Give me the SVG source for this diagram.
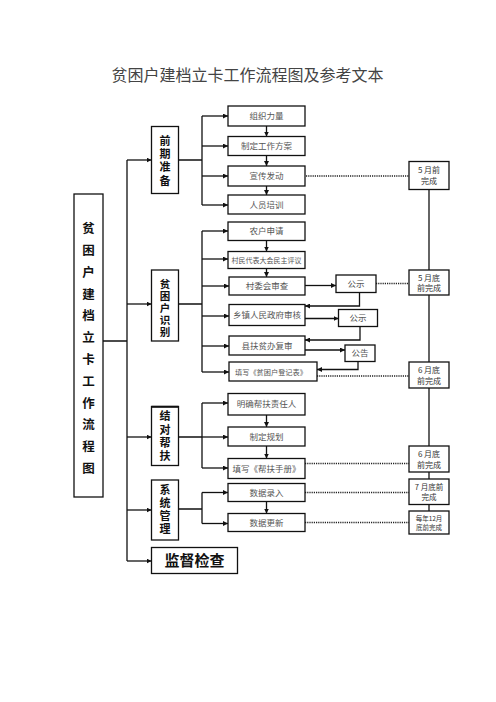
<svg xmlns="http://www.w3.org/2000/svg" width="496" height="702" viewBox="0 0 496 702">
<defs>
<marker id="ah" viewBox="0 0 10 10" refX="10" refY="5" markerWidth="5" markerHeight="5" orient="auto" markerUnits="userSpaceOnUse">
<path d="M0,0 L10,5 L0,10 z" fill="#111"/>
</marker>
<style>
.b{fill:#fff;stroke:#111;stroke-width:1.3}
.l{fill:none;stroke:#111;stroke-width:1.3}
.a{fill:none;stroke:#111;stroke-width:1.3;marker-end:url(#ah)}
.d{fill:none;stroke:#222;stroke-width:1.3;stroke-dasharray:1.2 1}
.t{font-family:"Noto Sans CJK SC",sans-serif;font-size:8.5px;fill:#555;text-anchor:middle}
.s{font-family:"Noto Sans CJK SC",sans-serif;font-size:8px;fill:#333;text-anchor:middle}
.v{font-family:"Noto Sans CJK SC",sans-serif;font-size:11px;font-weight:bold;fill:#111;text-anchor:middle;writing-mode:vertical-rl;text-orientation:upright}
.h{font-family:"Noto Sans CJK SC",sans-serif;font-size:15px;font-weight:bold;fill:#111;text-anchor:middle}
.title{font-family:"Noto Sans CJK SC",sans-serif;font-size:16px;fill:#444;text-anchor:middle}
</style>
</defs>
<rect width="496" height="702" fill="#fff"/>
<text class="title" x="247.5" y="81">贫困户建档立卡工作流程图及参考文本</text>

<g id="connectors">
<path class="l" d="M103,341 H127 M127,160 V561"/>
<path class="a" d="M127,160 H151.5"/>
<path class="a" d="M127,304 H151.5"/>
<path class="a" d="M127,437 H151.5"/>
<path class="a" d="M127,510 H151.5"/>
<path class="a" d="M127,561 H151.5"/>
<path class="l" d="M178.5,160 H202 M202,116 V205"/>
<path class="a" d="M202,116 H228"/>
<path class="a" d="M202,146 H228"/>
<path class="a" d="M202,176 H228"/>
<path class="a" d="M202,205 H228"/>
<path class="a" d="M266.5,126 V136.5"/>
<path class="a" d="M266.5,155.5 V166"/>
<path class="a" d="M266.5,186 V195"/>
<path class="l" d="M178.5,304 H202 M202,231 V372"/>
<path class="a" d="M202,231 H228"/>
<path class="a" d="M202,259 H228"/>
<path class="a" d="M202,286 H229"/>
<path class="a" d="M202,316 H229"/>
<path class="a" d="M202,346 H229"/>
<path class="a" d="M202,372 H229"/>
<path class="a" d="M266.5,240.5 V251.5"/>
<path class="a" d="M266.5,268.5 V277"/>
<path class="a" d="M305,285.5 H336"/>
<path class="a" d="M359.5,292.5 V306 H305"/>
<path class="a" d="M305,318.5 H338.5"/>
<path class="a" d="M360,326.5 V340 H305"/>
<path class="a" d="M305,350 H345"/>
<path class="a" d="M358,361.5 V369.5 H317"/>
<path class="l" d="M178.5,437 H202 M202,403 V468"/>
<path class="a" d="M202,403 H228"/>
<path class="a" d="M202,437 H228"/>
<path class="a" d="M202,468 H228"/>
<path class="a" d="M266.5,415 V427"/>
<path class="a" d="M266.5,446 V458.5"/>
<path class="l" d="M178.5,509 H202 M202,492.5 V523.5"/>
<path class="a" d="M202,492.5 H228"/>
<path class="a" d="M202,523.5 H228"/>
<path class="a" d="M266.5,501.5 V513.5"/>
<path class="l" d="M429,189.5 V511"/>
<path class="d" d="M306,176 H409"/>
<path class="d" d="M376,283.5 H409"/>
<path class="d" d="M317,376 H409"/>
<path class="d" d="M305,463.5 H409"/>
<path class="d" d="M305,492.5 H409"/>
<path class="d" d="M305,522.5 H409"/>
</g>

<g id="main"><rect class="b" x="74" y="194" width="29" height="303"/>
<text class="v" x="88.5" y="353" style="font-size:12.5px;letter-spacing:9.3px">贫困户建档立卡工作流程图</text></g>

<g id="qqzb"><rect class="b" x="151.5" y="126.5" width="27" height="67"/>
<text class="v" x="165" y="161.7" style="letter-spacing:2.3px">前期准备</text></g>

<g id="pkhsb"><rect class="b" x="151.5" y="270" width="27" height="71"/>
<text class="v" x="165" y="309" style="font-size:10.5px;letter-spacing:1.5px">贫困户识别</text></g>

<g id="jdbf"><rect class="b" x="151.5" y="406.5" width="27" height="59"/>
<path d="M151.5,406.8 H178.5" stroke="#111" stroke-width="2"/>
<text class="v" x="165" y="437" style="letter-spacing:2.1px">结对帮扶</text></g>

<g id="xtgl"><rect class="b" x="151.5" y="480" width="27" height="60"/>
<text class="v" x="165" y="510.3" style="letter-spacing:2.1px">系统管理</text></g>

<g id="jdjc"><rect class="b" x="151.5" y="547.5" width="86" height="26"/>
<text class="h" x="194.5" y="566">监督检查</text></g>

<g id="n1"><rect class="b" x="228" y="106" width="77" height="20"/><text class="t" x="266.5" y="119">组织力量</text></g>
<g id="n2"><rect class="b" x="228" y="136.5" width="77" height="19"/><text class="t" x="266.5" y="149">制定工作方案</text></g>
<g id="n3"><rect class="b" x="228" y="166" width="77" height="20"/><text class="t" x="266.5" y="179">宣传发动</text></g>
<g id="n4"><rect class="b" x="228" y="195" width="77" height="19"/><text class="t" x="266.5" y="207.5">人员培训</text></g>
<g id="n5"><rect class="b" x="228" y="222" width="77" height="18.5"/><text class="t" x="266.5" y="234">农户申请</text></g>
<g id="n6"><rect class="b" x="228" y="251.5" width="77" height="17"/><text class="t" x="266.5" y="262.5" style="font-size:7px">村民代表大会民主评议</text></g>
<g id="n7"><rect class="b" x="229" y="277" width="76" height="18"/><text class="t" x="267" y="289">村委会审查</text></g>
<g id="n8"><rect class="b" x="229" y="304.5" width="76" height="21"/><text class="t" x="267" y="318">乡镇人民政府审核</text></g>
<g id="n9"><rect class="b" x="229" y="336" width="76" height="19"/><text class="t" x="267" y="348.5">县扶贫办复审</text></g>
<g id="n10"><rect class="b" x="229" y="362" width="88" height="19"/><text class="t" x="271" y="374.5" style="font-size:7.2px">填写《贫困户登记表》</text></g>
<g id="n11"><rect class="b" x="228" y="393.5" width="77" height="21.5"/><text class="t" x="266.5" y="407">明确帮扶责任人</text></g>
<g id="n12"><rect class="b" x="228" y="427" width="77" height="19"/><text class="t" x="266.5" y="439.5">制定规划</text></g>
<g id="n13"><rect class="b" x="228" y="458.5" width="77" height="20"/><text class="t" x="266.5" y="471.5">填写《帮扶手册》</text></g>
<g id="n14"><rect class="b" x="228" y="483.5" width="77" height="18"/><text class="t" x="266.5" y="495.5">数据录入</text></g>
<g id="n15"><rect class="b" x="228" y="513.5" width="77" height="18"/><text class="t" x="266.5" y="525.5">数据更新</text></g>

<g id="gs1"><rect class="b" x="336" y="275" width="40" height="17.5"/><text class="t" x="356" y="286.5">公示</text></g>
<g id="gs2"><rect class="b" x="338.5" y="309.5" width="39" height="17"/><text class="t" x="358" y="321">公示</text></g>
<g id="gg"><rect class="b" x="345" y="345" width="30" height="16.5"/><text class="t" x="360" y="356">公告</text></g>

<g id="t1"><rect class="b" x="409" y="161.5" width="40" height="28"/><text class="s"><tspan x="429" y="173">5 月前</tspan><tspan x="429" y="184">完成</tspan></text></g>
<g id="t2"><rect class="b" x="409" y="270" width="40" height="25"/><text class="s"><tspan x="429" y="280.5">5 月底</tspan><tspan x="429" y="291">前完成</tspan></text></g>
<g id="t3"><rect class="b" x="409" y="362" width="40" height="26"/><text class="s"><tspan x="429" y="373">6 月底</tspan><tspan x="429" y="383.5">前完成</tspan></text></g>
<g id="t4"><rect class="b" x="409" y="446" width="40" height="26"/><text class="s"><tspan x="429" y="457">6 月底</tspan><tspan x="429" y="467.5">前完成</tspan></text></g>
<g id="t5"><rect class="b" x="409" y="479" width="40" height="25.5"/><text class="s" style="font-size:7.5px"><tspan x="429" y="489.5">7 月底前</tspan><tspan x="429" y="500">完成</tspan></text></g>
<g id="t6"><rect class="b" x="409" y="511" width="40" height="23"/><text class="s" style="font-size:6.5px"><tspan x="429" y="520.5">每年12月</tspan><tspan x="429" y="530">底前完成</tspan></text></g>
</svg>
